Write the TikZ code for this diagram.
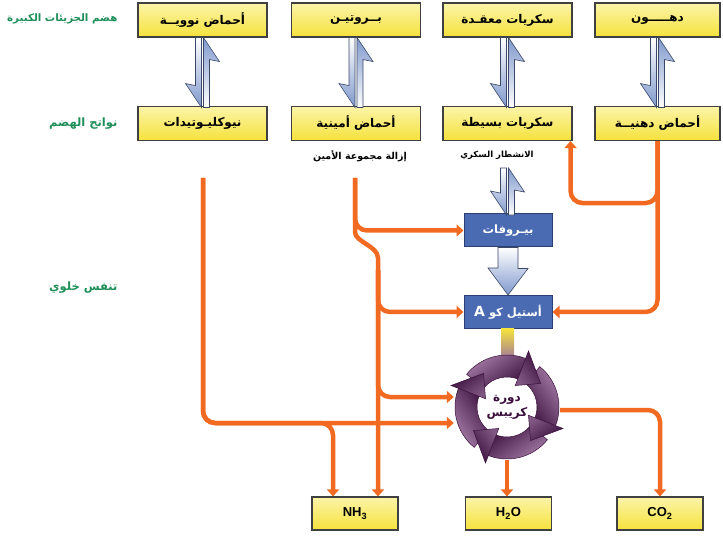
\documentclass[tikz,border=0pt]{standalone}
\usepackage{fontspec}
\setmainfont{Liberation Sans}
\newfontfamily\arabicfont[Script=Arabic]{DejaVu Sans}
\TeXXeTstate=1
\usepackage{tikz}
\usetikzlibrary{positioning,arrows.meta,calc}
\definecolor{foodyel}{HTML}{F5E23C}
\definecolor{foodlight}{HTML}{FCF4A8}
\definecolor{flowor}{HTML}{F26A21}
\definecolor{stepblue}{HTML}{4A6BB2}
\definecolor{stepline}{HTML}{2C3F72}
\definecolor{lblgreen}{HTML}{1F8F5A}
\definecolor{harpblue}{HTML}{7F98CC}
\definecolor{harpline}{HTML}{3A4868}
\definecolor{krebsdark}{HTML}{3A0F3C}
\definecolor{krebslight}{HTML}{C9A2CB}
\newcommand{\ar}[1]{{\arabicfont\beginR #1\endR}}

\begin{document}
\begin{tikzpicture}[x=1pt, y=-1pt,
  food/.style={draw=black!75, line width=1.1pt, top color=foodlight, bottom color=foodyel, minimum width=129pt, minimum height=34pt, inner sep=0pt, font=\bfseries\fontsize{12}{14}\selectfont},
  prod/.style={food, minimum width=86pt, minimum height=33pt, font=\bfseries\fontsize{13}{15}\selectfont},
  stepbox/.style={draw=stepline, line width=1pt, fill=stepblue, text=white, minimum width=88pt, minimum height=33pt, inner sep=0pt, font=\bfseries\fontsize{11.5}{13}\selectfont},
  lvl/.style={anchor=east, text=lblgreen, font=\bfseries\fontsize{11.5}{13}\selectfont},
  note/.style={font=\bfseries\fontsize{9.5}{11}\selectfont},
  flow/.style={draw=flowor, line width=4.5pt, rounded corners=12pt, -{Triangle[length=7pt,width=12pt]}},
  ring/.style={draw=krebsdark, line width=0.5pt, top color=krebslight!80!krebsdark, bottom color=krebsdark},
  harps/.pic={
    \path[draw=harpline, line width=0.6pt, top color=white, bottom color=harpblue]
      (-7,0) -- (-1,0) -- (-1,#1) -- (-17,#1-24) -- (-7,#1-22) -- cycle;
    \path[draw=harpline, line width=0.6pt, top color=harpblue, bottom color=white]
      (1,#1) -- (7,#1) -- (7,22) -- (17,24) -- (1,0) -- cycle;
  }]
\useasboundingbox (0,0) rectangle (723,537);

% levels
\node[lvl, font=\bfseries\fontsize{10.3}{12}\selectfont] (lvlbig) at (121,19) {\ar{هضم الجزيئات الكبيرة}};
\node[lvl] (lvlprod) at (121,124) {\ar{نواتج الهضم}};
\node[lvl] (lvlresp) at (121,288) {\ar{تنفس خلوي}};

% large molecules and their products
\node[food] (nuc) at (202.5,20) {\ar{أحماض نوويــة}};
\node[food] (prot) at (356,20) {\ar{بــروتيـن}};
\node[food] (carb) at (507.5,20) {\ar{سكريات معقـدة}};
\node[food, minimum width=125pt] (fats) at (657.5,20) {\ar{دهـــــون}};
\node[food] (ntd) at (202.5,123.5) {\ar{نيوكليـوتيدات}};
\node[food] (amino) at (356,123.5) {\ar{أحماض أمينية}};
\node[food] (sugar) at (507.5,123.5) {\ar{سكريات بسيطة}};
\node[food, minimum width=125pt] (fatty) at (657.5,123.5) {\ar{أحماض دهنيــة}};
\foreach \n in {nuc,prot,carb,fats}
  \pic at (\n.south) {harps=70};

\node[note] (deamin) at (360,156) {\ar{إزالة مجموعة الأمين}};
\node[note, font=\bfseries\fontsize{8.5}{10}\selectfont] (glyco) at (497,155) {\ar{الانشطار السكري}};

% cellular respiration
\node[stepbox] (pyr) at (508,230.5) {\ar{بيـروفات}};
\node[stepbox] (acoa) at (508,312) {\ar{أستيل كو {\fontsize{14}{14}\selectfont A}}};
\pic at ([yshift=-27]sugar.south) {harps=47};
\path[draw=harpline, line width=0.6pt, top color=white, bottom color=harpblue]
  ([xshift=-10]pyr.south) -- ([xshift=10]pyr.south) -- ++(0,21) -- ++(10,0)
  -- (acoa.north) -- ++(-20,-27) -- ++(10,0) -- cycle;

\node[circle, minimum size=106pt, inner sep=0pt, align=center, text=krebsdark, font=\bfseries\fontsize{12}{15}\selectfont] (krebs) at (507,407) {\ar{دورة}\\\ar{كريبس}};
\shade[top color=foodyel, bottom color=krebslight!70!krebsdark] ([xshift=-7]acoa.south) rectangle ($(krebs.north)+(7,6)$);

\node[prod] (nh3) at (355,513.5) {NH\textsubscript{3}};
\node[prod] (h2o) at (508.5,513.5) {H\textsubscript{2}O};
\node[prod] (co2) at (660,513.5) {CO\textsubscript{2}};

\coordinate (ntdout) at (203,178);
\coordinate (aaout) at (355,178);
\coordinate (aabend) at (378,270);
\coordinate (kin1) at ([yshift=10]krebs.west);
\coordinate (kin2) at ([yshift=-16]krebs.west);
\coordinate (nhin1) at ([xshift=-22]nh3.north);
\coordinate (nhin2) at ([xshift=23]nh3.north);
\coordinate (fatsplit) at ([yshift=-62]fatty.south);
\coordinate (sugin) at ([xshift=-2]sugar.south east);

\draw[flow] (ntdout) |- (kin2);
\draw[flow] (ntdout) |- (nhin1 |- kin2) -- (nhin1);
\draw[flow] (aaout) |- (pyr.west);
\draw[flow] (aaout) -- ++(0,42) .. controls +(0,22) and +(0,-24) .. (aabend) -- (nhin2);
\draw[flow] (aabend) |- (acoa.west);
\draw[flow] (aabend) |- (kin1);
\draw[flow] (fatty.south) |- (acoa.east);
\draw[flow] (fatty.south) -- (fatsplit) -| (sugin);
\draw[flow] (krebs.south) -- (krebs.south |- h2o.north);
\draw[flow] ([yshift=-3]krebs.east) -| (co2.north);

% krebs ring, clockwise arrows: bodies first, heads on top
\foreach \t in {35,-55,-145,125}
  \path[ring, shading angle=\t]
    ($(krebs)+({\t+106}:52pt)$) arc[start angle=\t+106, end angle=\t+30, radius=52pt]
    -- ($(krebs)+({\t+30}:30pt)$) arc[start angle=\t+30, end angle=\t+106, radius=30pt] -- cycle;
\foreach \t in {35,-55,-145,125}
  \path[ring, top color=krebslight!50!krebsdark, shading angle=\t+90]
    ($(krebs)+({\t+34}:52pt)$) -- ($(krebs)+({\t+34}:60pt)$) -- ($(krebs)+(\t:41pt)$)
    -- ($(krebs)+({\t+34}:23pt)$) -- ($(krebs)+({\t+34}:30pt)$) -- cycle;
\end{tikzpicture}
\end{document}
